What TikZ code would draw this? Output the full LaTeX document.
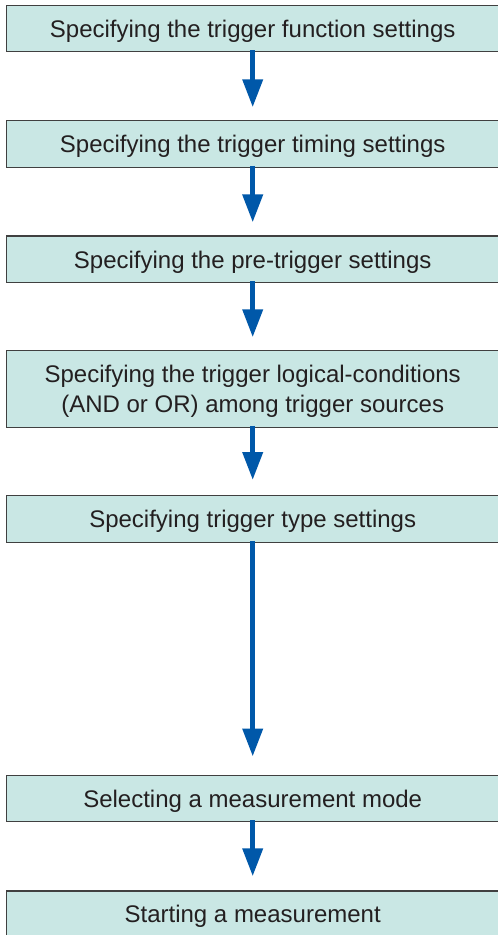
\documentclass[tikz,border=0pt]{standalone}
\usepackage{fontspec}
\setmainfont{Liberation Sans}
\usetikzlibrary{arrows.meta}
\definecolor{boxfill}{HTML}{C9E7E4}
\definecolor{boxline}{HTML}{404040}
\definecolor{arrowblue}{HTML}{0058A9}
\definecolor{txt}{HTML}{231F20}
\newcommand{\txtshiftleft}{\hspace*{-12pt}}
\begin{document}
\begin{tikzpicture}[x=1pt,y=1pt,
  stepbox/.style={draw=boxline, line width=1.3pt, fill=boxfill,
    minimum width=504pt, minimum height=46.6pt, inner sep=0pt,
    text=txt, font=\fontsize{24}{30}\selectfont, align=center,
    text height=17.2pt, text depth=0pt},
  flowarrow/.style={draw=arrowblue, line width=5.3pt,
    -{Triangle[length=28pt,width=19.5pt]}}]
\path[use as bounding box, clip] (0,0) rectangle (498,-935);
\fill[white] (0,0) rectangle (498,-935);
\coordinate (axis) at (252.7,0);
\node[stepbox] (b1) at (258.7,-28.5) {\txtshiftleft Specifying the trigger function settings};
\node[stepbox] (b2) at (258.7,-144) {\txtshiftleft Specifying the trigger timing settings};
\node[stepbox] (b3) at (258.7,-259.4) {\txtshiftleft Specifying the pre-trigger settings};
\node[stepbox, minimum height=76.6pt, text height=47.2pt, text depth=0pt] (b4) at (258.7,-389) {\txtshiftleft Specifying the trigger logical-conditions\\\txtshiftleft (AND or OR) among trigger sources};
\node[stepbox] (b5) at (258.7,-519) {\txtshiftleft Specifying trigger type settings};
\node[stepbox] (b6) at (258.7,-798.5) {\txtshiftleft Selecting a measurement mode};
\node[stepbox] (b7) at (258.7,-914.3) {\txtshiftleft Starting a measurement};
\draw[flowarrow] ([yshift=2pt]b1.south -| axis) -- ([yshift=12.7pt]b2.north -| axis);
\draw[flowarrow] ([yshift=2pt]b2.south -| axis) -- ([yshift=13pt]b3.north -| axis);
\draw[flowarrow] ([yshift=2pt]b3.south -| axis) -- ([yshift=12.7pt]b4.north -| axis);
\draw[flowarrow] ([yshift=2pt]b4.south -| axis) -- ([yshift=15pt]b5.north -| axis);
\draw[flowarrow] ([yshift=2pt]b5.south -| axis) -- ([yshift=18pt]b6.north -| axis);
\draw[flowarrow] ([yshift=2pt]b6.south -| axis) -- ([yshift=14pt]b7.north -| axis);
\end{tikzpicture}
\end{document}
